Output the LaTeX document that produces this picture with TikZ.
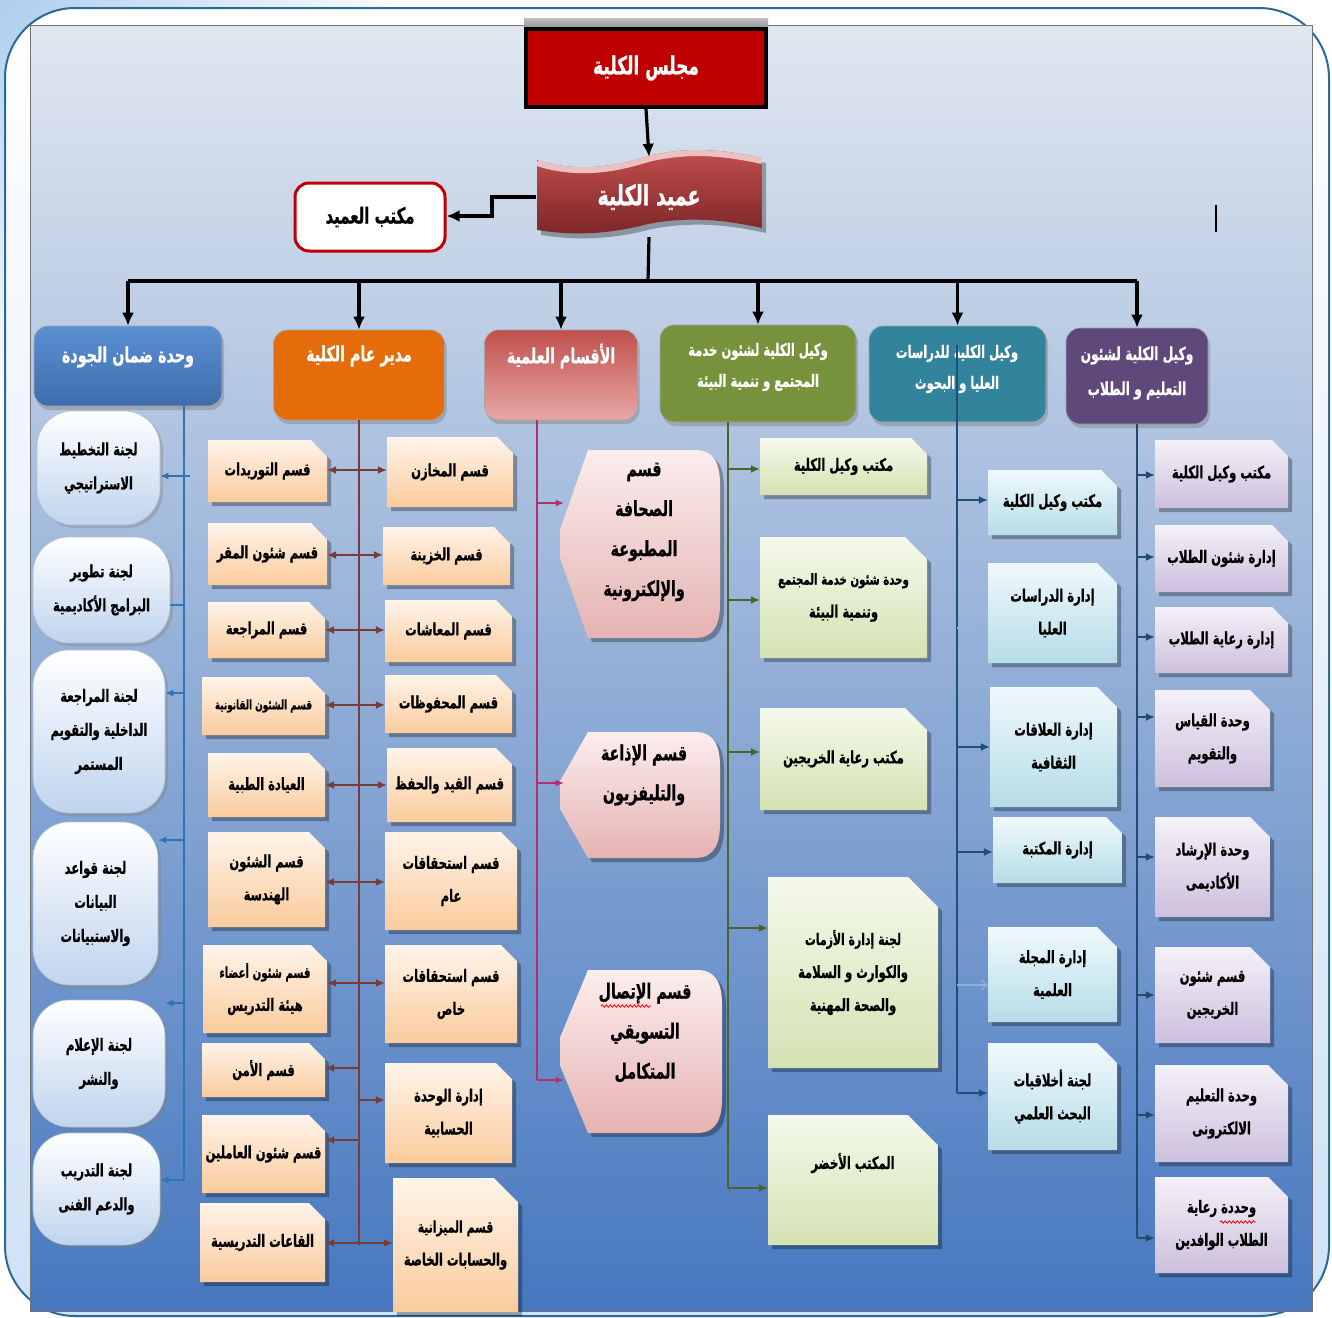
\documentclass[tikz,border=0pt]{standalone}
\usepackage{fontspec}
\newfontfamily\arabicfont[Script=Arabic,FakeStretch=0.68,BoldFeatures={FakeBold=0.7}]{DejaVu Sans}
\TeXXeTstate=1
\usetikzlibrary{arrows.meta,shadows,shadings,decorations.pathmorphing}
\newcommand\RL[1]{\beginR#1\endR}
\definecolor{framec}{HTML}{2B6A94}
\definecolor{bgtop}{HTML}{E0E7F0}
\definecolor{bgmid}{HTML}{A3BCDD}
\definecolor{bgbot}{HTML}{4677BF}
\definecolor{cornerblue}{HTML}{AFCEEF}
\definecolor{councilred}{HTML}{C00000}
\definecolor{deanA}{HTML}{C65050}
\definecolor{deanB}{HTML}{7B2527}
\definecolor{hqA}{HTML}{5B8FD2}\definecolor{hqB}{HTML}{3E6DAE}
\definecolor{hoA}{HTML}{E46C0A}\definecolor{hoM}{HTML}{F7A553}
\definecolor{hrA}{HTML}{C0504D}\definecolor{hrB}{HTML}{E8A8A6}
\definecolor{hgA}{HTML}{76923C}\definecolor{hgM}{HTML}{8DAA4D}
\definecolor{htA}{HTML}{31849B}\definecolor{htM}{HTML}{3E9AB3}
\definecolor{hpA}{HTML}{5F497A}\definecolor{hpM}{HTML}{7A629E}
\definecolor{oT}{HTML}{FFF4EA}\definecolor{oB}{HTML}{FACB9C}
\definecolor{gT}{HTML}{F5F9EC}\definecolor{gB}{HTML}{D4E2B2}
\definecolor{tT}{HTML}{F0F9FC}\definecolor{tB}{HTML}{B5DCE8}
\definecolor{uT}{HTML}{F4F1F8}\definecolor{uB}{HTML}{CCBFDD}
\definecolor{pT}{HTML}{FCEDED}\definecolor{pB}{HTML}{E5B3B2}
\definecolor{qT}{HTML}{FFFFFF}\definecolor{qB}{HTML}{BFD4EE}
\definecolor{qline}{HTML}{2E75B6}
\definecolor{oline}{HTML}{7A3B3B}
\definecolor{rline}{HTML}{B0306E}
\definecolor{gline}{HTML}{4F6228}
\definecolor{tline}{HTML}{1F4E79}
\definecolor{tlight}{HTML}{8DB3DA}
\definecolor{uline}{HTML}{244A72}
\def\snp{16}
\def\tdy{0}
\newcommand\snipbox[8]{%
 \fill[black,opacity=.3] (#2+4,#3+4) -- (#4+4-\snp,#3+4) -- (#4+4,#3+4+\snp) -- (#4+4,#5+4) -- (#2+4,#5+4) -- cycle;
 \shade[top color=#6,bottom color=#7] (#2,#3) -- (#4-\snp,#3) -- (#4,#3+\snp) -- (#4,#5) -- (#2,#5) -- cycle;
 \node[btext,minimum width={#4-#2},minimum height={#5-#3}] (#1) at ({(#2+#4)/2},{(#3+#5)/2+\tdy}) {#8};}
\newcommand\dispbox[7]{%
 \fill[black,opacity=.3,shift={(4,4)}] (#2+28,#3) -- (#4-25,#3) .. controls (#4-5,#3) and (#4,#3+15) .. (#4,#3+35) -- (#4,#5-35) .. controls (#4,#5-15) and (#4-5,#5) .. (#4-25,#5) -- (#2+28,#5) -- (#2,{(#3+#5)/2+14}) -- (#2,{(#3+#5)/2-14}) -- cycle;
 \shade[top color=pT,bottom color=pB] (#2+28,#3) -- (#4-25,#3) .. controls (#4-5,#3) and (#4,#3+15) .. (#4,#3+35) -- (#4,#5-35) .. controls (#4,#5-15) and (#4-5,#5) .. (#4-25,#5) -- (#2+28,#5) -- (#2,{(#3+#5)/2+14}) -- (#2,{(#3+#5)/2-14}) -- cycle;
 \node[btext,font=\arabicfont\bfseries\fontsize{21}{40}\selectfont,minimum width={#4-#2},minimum height={#5-#3}] (#1) at ({(#2+#4)/2+4},{(#3+#5)/2+#6}) {#7};}
\begin{document}
\begin{tikzpicture}[x=1pt,y=-1pt,
  btext/.style={inner sep=0pt, align=center, text=black, font=\arabicfont\bfseries\fontsize{17}{33}\selectfont},
  htext/.style={inner sep=0pt, align=center, text=white, font=\arabicfont\bfseries\fontsize{17}{31}\selectfont},
  hbig/.style={htext, font=\arabicfont\bfseries\fontsize{21}{31}\selectfont},
  hdr/.style={rounded corners=14pt, inner sep=0pt, draw=black!35, line width=0.6pt,
     drop shadow={shadow xshift=2pt,shadow yshift=-4pt,opacity=.45}},
  pill/.style={rounded corners=36pt, inner sep=0pt, top color=qT, bottom color=qB, draw=qB!70!black!60, line width=0.6pt,
     drop shadow={shadow xshift=3pt,shadow yshift=-3pt,opacity=.35}, align=center, text=black,
     font=\arabicfont\bfseries\fontsize{17}{34}\selectfont},
  blk/.style={line width=3.2pt, draw=black},
  blkarr/.style={blk, -{Latex[length=13pt,width=12pt]}},
  qarr/.style={draw=qline, line width=1.4pt, -{Latex[length=8pt,width=7pt]}},
  oarr/.style={draw=oline, line width=1.3pt, {Latex[length=9pt,width=8pt]}-{Latex[length=9pt,width=8pt]}},
  oone/.style={draw=oline, line width=1.3pt, -{Latex[length=9pt,width=8pt]}},
  rarr/.style={draw=rline, line width=1.3pt, -{Latex[length=8pt,width=7pt]}},
  garr/.style={draw=gline, line width=1.3pt, -{Latex[length=9pt,width=8pt]}},
  tarr/.style={draw=tline, line width=1.3pt, -{Latex[length=9pt,width=8pt]}},
  tlt/.style={draw=tlight, line width=1.1pt, -{Straight Barb[length=6pt,width=10pt]}},
  uarr/.style={draw=uline, line width=1.3pt, -{Latex[length=9pt,width=8pt]}}]
\useasboundingbox (0,0) rectangle (1332,1317);
% ---- background & frame
\begin{scope}
\clip (0,0) rectangle (1332,1317);
\shade[inner color=cornerblue, outer color=white] (0,0) circle (420);
\end{scope}
\shade[draw=framec, line width=2pt, rounded corners=70pt, top color=white, bottom color=cornerblue!60!white] (5,8) rectangle (1329,1316);
\shade[top color=bgtop, middle color=bgmid, bottom color=bgbot] (30,25) rectangle (1312,1311);
\draw[black!55, line width=1pt] (30,25) rectangle (1312,1311);
% ---- top
\shade[top color=black!25, bottom color=black!45] (524,18) rectangle (768,30);
\node[draw=black, line width=4pt, fill=councilred, minimum width=240, minimum height=78, inner sep=0pt,
  text=white, font=\arabicfont\bfseries\fontsize{25}{28}\selectfont] (council) at (646,68) {\RL{مجلس الكلية}};
\fill[black,opacity=.3] (541,165) .. controls (579,177) and (614,173) .. (652,161) .. controls (694,151) and (729,155) .. (766,163) -- (766,233) .. controls (729,225) and (694,221) .. (652,229) .. controls (614,239) and (579,241) .. (541,235) -- cycle;
\shade[top color=deanA, bottom color=deanB] (537,160) .. controls (575,172) and (610,168) .. (648,156) .. controls (690,146) and (725,150) .. (762,158) -- (762,228) .. controls (725,220) and (690,216) .. (648,224) .. controls (610,234) and (575,236) .. (537,230) -- cycle;
\draw[line width=6pt, color=pB!80!white] (537,163) .. controls (575,175) and (610,171) .. (648,159) .. controls (690,149) and (725,153) .. (762,161);
\node[inner sep=0pt, minimum width=225, minimum height=80, text=white,
  font=\arabicfont\bfseries\fontsize{28}{30}\selectfont] (dean) at (649,197) {\RL{عميد الكلية}};
\node[draw=councilred, line width=3pt, fill=white, rounded corners=14pt, minimum width=150, minimum height=68, inner sep=0pt,
  font=\arabicfont\bfseries\fontsize{22}{24}\selectfont] (office) at (370,217) {\RL{مكتب العميد}};
\draw[blkarr] (council.south) -- (dean.north);
\draw[blkarr] (dean.west |- 0,197) -- (492,197) -- (492,216) -- (office.east |- 0,216);
\coordinate (bus) at (648,281);
\draw[blk] (dean.south) -- (bus);
\draw[line width=2pt] (1216,205) -- (1216,232);
% ---- headers
\node[hdr, top color=hqA, bottom color=hqB, minimum width=188, minimum height=80] (hq) at (128,366) {};
\node[hdr, top color=hoA, middle color=hoM, bottom color=hoA, minimum width=171, minimum height=90] (ho) at (359,375) {};
\node[hdr, top color=hrA, bottom color=hrB, minimum width=153, minimum height=90] (hr) at (561,375) {};
\node[hdr, top color=hgA, middle color=hgM, bottom color=hgA, minimum width=196, minimum height=97] (hg) at (758,373.5) {};
\node[hdr, top color=htA, middle color=htM, bottom color=htA, minimum width=177, minimum height=96] (ht) at (957.5,374) {};
\node[hdr, top color=hpA, middle color=hpM, bottom color=hpA, minimum width=142, minimum height=96] (hp) at (1137,376) {};
\node[hbig] (hqt) at (128,357) {\RL{وحدة ضمان الجودة}};
\node[hbig] (hot) at (359,356) {\RL{مدير عام الكلية}};
\node[hbig] (hrt) at (561,356) {\RL{الأقسام العلمية}};
\node[htext] (hgt) at (758,367) {\RL{وكيل الكلية لشئون خدمة}\\\RL{المجتمع و تنمية البيئة}};
\node[htext] (htt) at (957,369) {\RL{وكيل الكلية للدراسات}\\\RL{العليا و البحوث}};
\node[htext, font=\arabicfont\bfseries\fontsize{18}{35}\selectfont] (hpt) at (1137,373) {\RL{وكيل الكلية لشئون}\\\RL{التعليم و الطلاب}};
\draw[blk] (bus -| hq.north) -- (bus -| hp.north);
\foreach \n in {hq,ho,hr,hg,ht,hp} \draw[blkarr] (bus -| \n.north) -- (\n.north);
% ---- quality unit column
\node[pill, minimum width=123, minimum height=114] (q1) at (98.5,468) {\RL{لجنة التخطيط}\\\RL{الاستراتيجي}};
\node[pill, minimum width=137, minimum height=106] (q2) at (101.5,590) {\RL{لجنة تطوير}\\\RL{البرامج الأكاديمية}};
\node[pill, minimum width=132, minimum height=163] (q3) at (99,731.5) {\RL{لجنة المراجعة}\\\RL{الداخلية والتقويم}\\\RL{المستمر}};
\node[pill, minimum width=125, minimum height=163] (q4) at (95.5,903.5) {\RL{لجنة قواعد}\\\RL{البيانات}\\\RL{والاستبيانات}};
\node[pill, minimum width=132, minimum height=127] (q5) at (99,1063.5) {\RL{لجنة الإعلام}\\\RL{والنشر}};
\node[pill, minimum width=127, minimum height=112] (q6) at (96.5,1189) {\RL{لجنة التدريب}\\\RL{والدعم الفنى}};
\draw[draw=qline, line width=1.4pt] (hq.south -| 184,0) -- (184,1180);
\draw[qarr] (190,476) -- (q1.east |- 0,476);
\draw[draw=qline, line width=1.4pt] (184,605) -- (q2.east |- 0,605);
\draw[qarr] (184,693) -- (q3.east |- 0,693);
\draw[qarr] (184,840) -- (q4.east |- 0,840);
\draw[qarr] (184,1003) -- (q5.east |- 0,1003);
\draw[qarr] (184,1180) -- (q6.east |- 0,1180);
% ---- general director column
\snipbox{oL1}{208}{440}{327}{502}{oT}{oB}{\RL{قسم التوريدات}}
\snipbox{oR1}{387}{437}{513}{507}{oT}{oB}{\RL{قسم المخازن}}
\snipbox{oL2}{208}{523}{327}{585}{oT}{oB}{\RL{قسم شئون المقر}}
\snipbox{oR2}{383}{527}{510}{585}{oT}{oB}{\RL{قسم الخزينة}}
\snipbox{oL3}{208}{602}{325}{658}{oT}{oB}{\RL{قسم المراجعة}}
\snipbox{oR3}{385}{600}{512}{662}{oT}{oB}{\RL{قسم المعاشات}}
\snipbox{oL4}{202}{677}{325}{735}{oT}{oB}{\fontsize{13}{24}\selectfont\RL{قسم الشئون القانونية}}
\snipbox{oR4}{385}{675}{512}{733}{oT}{oB}{\RL{قسم المحفوظات}}
\snipbox{oL5}{208}{753}{325}{817}{oT}{oB}{\RL{العيادة الطبية}}
\snipbox{oR5}{387}{748}{512}{822}{oT}{oB}{\RL{قسم القيد والحفظ}}
\snipbox{oL6}{208}{832}{325}{927}{oT}{oB}{\RL{قسم الشئون}\\\RL{الهندسة}}
\snipbox{oR6}{385}{832}{517}{930}{oT}{oB}{\RL{قسم استحقاقات}\\\RL{عام}}
\snipbox{oL7}{203}{945}{327}{1033}{oT}{oB}{\fontsize{15}{29}\selectfont\RL{قسم شئون أعضاء}\\\RL{هيئة التدريس}}
\snipbox{oR7}{385}{945}{517}{1043}{oT}{oB}{\RL{قسم استحقاقات}\\\RL{خاص}}
\snipbox{oL8}{202}{1043}{325}{1097}{oT}{oB}{\RL{قسم الأمن}}
\snipbox{oR8}{385}{1063}{512}{1163}{oT}{oB}{\RL{إدارة الوحدة}\\\RL{الحسابية}}
\snipbox{oL9}{202}{1115}{325}{1193}{oT}{oB}{\RL{قسم شئون العاملين}}
\snipbox{oL10}{200}{1203}{325}{1282}{oT}{oB}{\RL{القاعات التدريسية}}
\def\snp{24}
\snipbox{oR10}{393}{1178}{518}{1312}{oT}{oB}{\fontsize{16}{33}\selectfont\RL{قسم الميزانية}\\\RL{والحسابات الخاصة}}
\def\snp{16}
\draw[draw=oline, line width=1.3pt] (ho.south) -- (359,1245);
\draw[oarr] (oL1.east |- 0,470) -- (oR1.west |- 0,470);
\draw[oarr] (oL2.east |- 0,555) -- (oR2.west |- 0,555);
\draw[oarr] (oL3.east |- 0,630) -- (oR3.west |- 0,630);
\draw[oarr] (oL4.east |- 0,705) -- (oR4.west |- 0,705);
\draw[oarr] (oL5.east |- 0,785) -- (oR5.west |- 0,785);
\draw[oarr] (oL6.east |- 0,882) -- (oR6.west |- 0,882);
\draw[oarr] (oL7.east |- 0,983) -- (oR7.west |- 0,983);
\draw[oone] (359,1068) -- (oL8.east |- 0,1068);
\draw[oone] (359,1100) -- (oR8.west |- 0,1100);
\draw[oone] (359,1140) -- (oL9.east |- 0,1140);
\draw[oarr] (oL10.east |- 0,1243) -- (oR10.west |- 0,1243);
% ---- scientific departments
\dispbox{p1}{560}{450}{720}{638}{-12}{\RL{قسم}\\\RL{الصحافة}\\\RL{المطبوعة}\\\RL{والإلكترونية}}
\dispbox{p2}{560}{732}{720}{858}{-20}{\RL{قسم الإذاعة}\\\RL{والتليفزيون}}
\dispbox{p3}{560}{970}{722}{1133}{-19}{\RL{قسم الإتصال}\\\RL{التسويقي}\\\RL{المتكامل}}
\draw[draw=rline, line width=1.3pt] (hr.south -| 537,0) -- (537,1080);
\draw[rarr] (537,503) -- (p1.west |- 0,503);
\draw[rarr] (537,783) -- (p2.west |- 0,783);
\draw[rarr] (537,1080) -- (p3.west |- 0,1080);
\draw[red, line width=0.8pt, decorate, decoration={snake, amplitude=1.2pt, segment length=4pt}] (601,1006) -- (651,1006);
% ---- community service
\snipbox{g1}{760}{438}{927}{495}{gT}{gB}{\RL{مكتب وكيل الكلية}}
\def\snp{22}
\snipbox{g2}{760}{537}{927}{658}{gT}{gB}{\fontsize{15}{30}\selectfont\RL{وحدة شئون خدمة المجتمع}\\\RL{وتنمية البيئة}}
\snipbox{g3}{760}{708}{927}{810}{gT}{gB}{\RL{مكتب رعاية الخريجين}}
\def\snp{30}
\snipbox{g4}{768}{877}{938}{1068}{gT}{gB}{\fontsize{16}{33}\selectfont\RL{لجنة إدارة الأزمات}\\\RL{والكوارث و السلامة}\\\RL{والصحة المهنية}}
\def\tdy{-17}
\snipbox{g5}{768}{1115}{938}{1245}{gT}{gB}{\RL{المكتب الأخضر}}
\def\tdy{0}
\def\snp{16}
\draw[draw=gline, line width=1.3pt] (hg.south -| 728,0) -- (728,1188);
\draw[garr] (728,469) -- (g1.west |- 0,469);
\draw[garr] (728,600) -- (g2.west |- 0,600);
\draw[garr] (728,752) -- (g3.west |- 0,752);
\draw[garr] (728,928) -- (g4.west |- 0,928);
\draw[garr] (728,1188) -- (g5.west |- 0,1188);
% ---- graduate studies
\snipbox{t1}{988}{470}{1117}{535}{tT}{tB}{\RL{مكتب وكيل الكلية}}
\def\snp{20}
\snipbox{t2}{988}{563}{1117}{663}{tT}{tB}{\RL{إدارة الدراسات}\\\RL{العليا}}
\snipbox{t3}{990}{687}{1117}{807}{tT}{tB}{\RL{إدارة العلاقات}\\\RL{الثقافية}}
\def\snp{16}
\snipbox{t4}{993}{817}{1122}{883}{tT}{tB}{\RL{إدارة المكتبة}}
\def\snp{20}
\snipbox{t5}{988}{927}{1117}{1022}{tT}{tB}{\RL{إدارة المجلة}\\\RL{العلمية}}
\snipbox{t6}{988}{1043}{1117}{1150}{tT}{tB}{\RL{لجنة أخلاقيات}\\\RL{البحث العلمي}}
\def\snp{16}
\draw[draw=tline, line width=1.3pt] (957,345) -- (957,1093);
\draw[tarr] (957,500) -- (t1.west |- 0,500);
\draw[tlt] (957,628) -- (t2.west |- 0,628);
\draw[tarr] (957,747) -- (t3.west |- 0,747);
\draw[tarr] (957,852) -- (t4.west |- 0,852);
\draw[tlt] (957,985) -- (t5.west |- 0,985);
\draw[tarr] (957,1093) -- (t6.west |- 0,1093);
% ---- education & students
\snipbox{u1}{1155}{440}{1288}{508}{uT}{uB}{\RL{مكتب وكيل الكلية}}
\snipbox{u2}{1155}{525}{1288}{592}{uT}{uB}{\RL{إدارة شئون الطلاب}}
\snipbox{u3}{1155}{607}{1288}{673}{uT}{uB}{\RL{إدارة رعاية الطلاب}}
\def\snp{20}
\snipbox{u4}{1155}{690}{1270}{787}{uT}{uB}{\RL{وحدة القياس}\\\RL{والتقويم}}
\snipbox{u5}{1155}{817}{1270}{917}{uT}{uB}{\RL{وحدة الإرشاد}\\\RL{الأكاديمى}}
\snipbox{u6}{1155}{947}{1270}{1043}{uT}{uB}{\RL{قسم شئون}\\\RL{الخريجين}}
\snipbox{u7}{1155}{1065}{1288}{1162}{uT}{uB}{\RL{وحدة التعليم}\\\RL{الالكترونى}}
\snipbox{u8}{1155}{1177}{1288}{1273}{uT}{uB}{\RL{وحددة رعاية}\\\RL{الطلاب الوافدين}}
\def\snp{16}
\draw[draw=uline, line width=1.3pt] (hp.south -| 1137,0) -- (1137,1238);
\draw[uarr] (1137,475) -- (u1.west |- 0,475);
\draw[uarr] (1137,557) -- (u2.west |- 0,557);
\draw[uarr] (1137,637) -- (u3.west |- 0,637);
\draw[uarr] (1137,717) -- (u4.west |- 0,717);
\draw[uarr] (1137,857) -- (u5.west |- 0,857);
\draw[uarr] (1137,995) -- (u6.west |- 0,995);
\draw[uarr] (1137,1115) -- (u7.west |- 0,1115);
\draw[uarr] (1137,1238) -- (u8.west |- 0,1238);
\draw[red, line width=0.8pt, decorate, decoration={snake, amplitude=1.2pt, segment length=4pt}] (1220,1222) -- (1256,1222);
\end{tikzpicture}
\end{document}
